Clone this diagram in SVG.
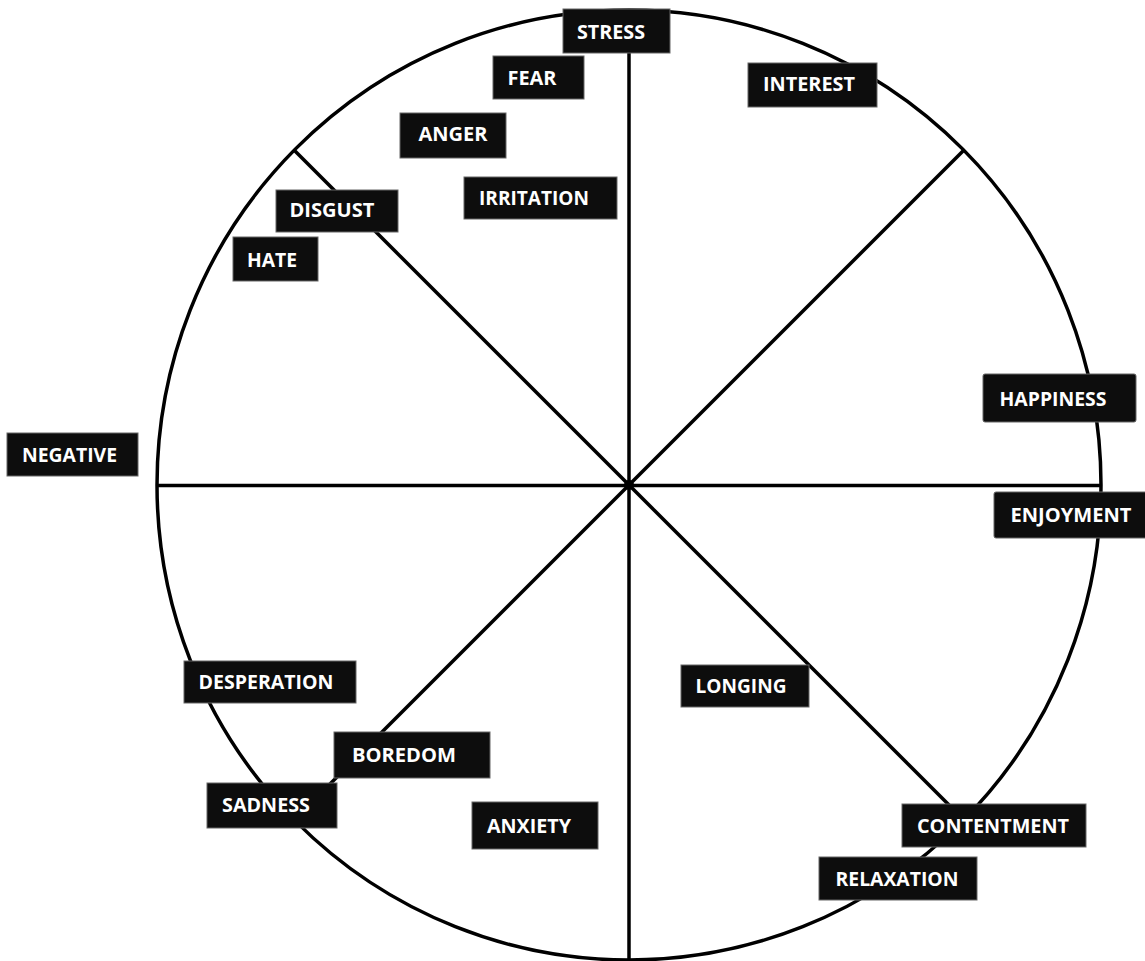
<svg xmlns="http://www.w3.org/2000/svg" width="1145" height="961" viewBox="0 0 1145 961">
<style>
.ln{stroke:#000;stroke-width:3.5;fill:none}
.bx{fill:#0d0d0d;stroke:#666;stroke-width:1}
.tx{fill:#fff;font-family:"Open Sans","Noto Sans","Liberation Sans",sans-serif;font-weight:bold;font-size:19px;text-anchor:middle}
</style>
<rect width="1145" height="961" fill="#fff"/>
<g id="connectors">
<ellipse class="ln" cx="629" cy="485" rx="472" ry="475"/>
<line class="ln" x1="629" y1="10" x2="629" y2="961"/>
<line class="ln" x1="157" y1="485.5" x2="1101" y2="485.5"/>
<line class="ln" x1="294" y1="150" x2="964" y2="820"/>
<line class="ln" x1="964" y1="150" x2="294" y2="820"/>
<circle cx="629" cy="485" r="5" fill="#000"/>
</g>
<g id="stress"><rect class="bx" x="563" y="9" width="107" height="44"/><text class="tx" x="611" y="38.8" textLength="68" lengthAdjust="spacingAndGlyphs">STRESS</text></g>
<g id="fear"><rect class="bx" x="493" y="56" width="91" height="43"/><text class="tx" x="532" y="84.8" textLength="49" lengthAdjust="spacingAndGlyphs">FEAR</text></g>
<g id="interest"><rect class="bx" x="748" y="63" width="129" height="44"/><text class="tx" x="809" y="90.8" textLength="92" lengthAdjust="spacingAndGlyphs">INTEREST</text></g>
<g id="anger"><rect class="bx" x="400" y="113" width="106" height="45"/><text class="tx" x="453" y="140.8" textLength="69" lengthAdjust="spacingAndGlyphs">ANGER</text></g>
<g id="irritation"><rect class="bx" x="464" y="177" width="153" height="42"/><text class="tx" x="534" y="204.8" textLength="110" lengthAdjust="spacingAndGlyphs">IRRITATION</text></g>
<g id="disgust"><rect class="bx" x="276" y="190" width="122" height="42"/><text class="tx" x="332" y="216.8" textLength="85" lengthAdjust="spacingAndGlyphs">DISGUST</text></g>
<g id="hate"><rect class="bx" x="233" y="237" width="85" height="44"/><text class="tx" x="272" y="266.8" textLength="50" lengthAdjust="spacingAndGlyphs">HATE</text></g>
<g id="negative"><rect class="bx" x="7" y="433" width="131" height="43"/><text class="tx" x="69.5" y="461.8" textLength="95" lengthAdjust="spacingAndGlyphs">NEGATIVE</text></g>
<g id="happiness"><rect class="bx" x="983" y="374" width="153" height="48" rx="2"/><text class="tx" x="1053" y="405.8" textLength="107" lengthAdjust="spacingAndGlyphs">HAPPINESS</text></g>
<g id="enjoyment"><rect class="bx" x="994" y="492" width="155" height="46" rx="2"/><text class="tx" x="1071" y="521.8" textLength="121" lengthAdjust="spacingAndGlyphs">ENJOYMENT</text></g>
<g id="desperation"><rect class="bx" x="184" y="661" width="172" height="42"/><text class="tx" x="266" y="688.8" textLength="135" lengthAdjust="spacingAndGlyphs">DESPERATION</text></g>
<g id="boredom"><rect class="bx" x="334" y="732" width="156" height="46"/><text class="tx" x="404" y="761.8" textLength="104" lengthAdjust="spacingAndGlyphs">BOREDOM</text></g>
<g id="sadness"><rect class="bx" x="207" y="783" width="130" height="45"/><text class="tx" x="266" y="811.8" textLength="88" lengthAdjust="spacingAndGlyphs">SADNESS</text></g>
<g id="anxiety"><rect class="bx" x="472" y="802" width="126" height="47"/><text class="tx" x="529" y="832.8" textLength="84" lengthAdjust="spacingAndGlyphs">ANXIETY</text></g>
<g id="longing"><rect class="bx" x="681" y="665" width="128" height="42"/><text class="tx" x="741" y="692.8" textLength="91" lengthAdjust="spacingAndGlyphs">LONGING</text></g>
<g id="contentment"><rect class="bx" x="902" y="804" width="184" height="43"/><text class="tx" x="993" y="832.8" textLength="152" lengthAdjust="spacingAndGlyphs">CONTENTMENT</text></g>
<g id="relaxation"><rect class="bx" x="819" y="857" width="158" height="43"/><text class="tx" x="897" y="885.8" textLength="123" lengthAdjust="spacingAndGlyphs">RELAXATION</text></g>
</svg>
